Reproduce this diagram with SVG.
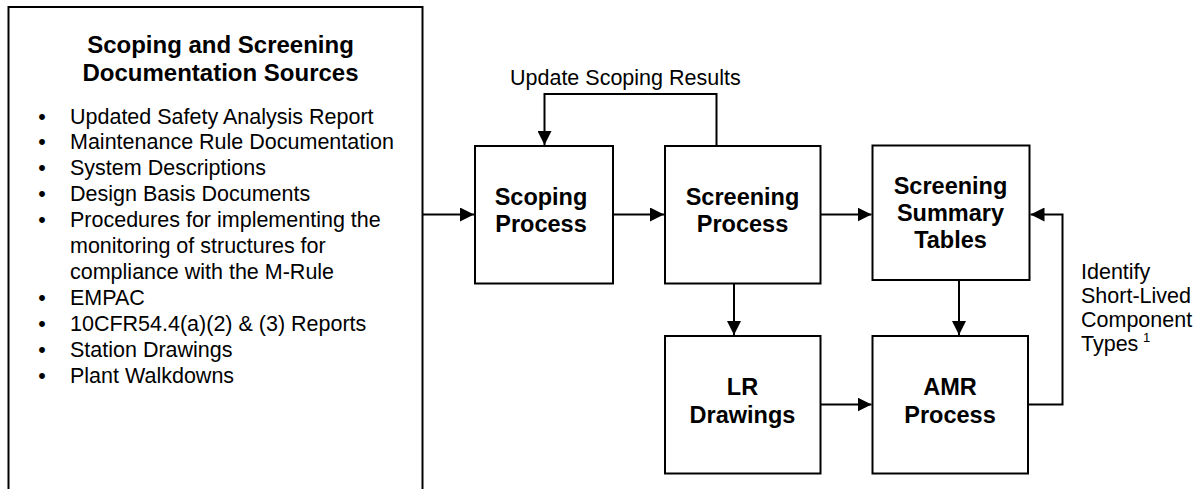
<svg xmlns="http://www.w3.org/2000/svg" width="1200" height="489" viewBox="0 0 1200 489">
  <style>
    .box { fill: #ffffff; stroke: #000000; stroke-width: 2; }
    .wire { fill: none; stroke: #000000; stroke-width: 2; }
    .head { font-family: "Liberation Sans", Arial, sans-serif; font-weight: bold; font-size: 23.5px; fill: #000000; text-anchor: middle; }
    .title { font-family: "Liberation Sans", Arial, sans-serif; font-weight: bold; font-size: 24px; fill: #000000; text-anchor: middle; }
    .txt { font-family: "Liberation Sans", Arial, sans-serif; font-size: 21.5px; fill: #000000; }
    .sup { font-family: "Liberation Sans", Arial, sans-serif; font-size: 13px; fill: #000000; }
  </style>
  <defs>
    <marker id="arrow" viewBox="0 0 14 14" refX="14" refY="7" markerWidth="14" markerHeight="14" markerUnits="userSpaceOnUse" orient="auto">
      <path d="M0,0 L14,7 L0,14 Z" fill="#000000"/>
    </marker>
  </defs>

  <rect width="1200" height="489" fill="#ffffff"/>

  <!-- Source documents panel (open at the bottom edge) -->
  <g id="sources">
    <rect class="box" x="8.5" y="7" width="414" height="500"/>
    <text class="title" x="220.5" y="53">Scoping and Screening</text>
    <text class="title" x="220.5" y="81">Documentation Sources</text>
    <g class="txt">
      <text x="42" y="123.5" text-anchor="middle">•</text>
      <text x="70" y="123.5">Updated Safety Analysis Report</text>
      <text x="42" y="149.4" text-anchor="middle">•</text>
      <text x="70" y="149.4">Maintenance Rule Documentation</text>
      <text x="42" y="175.3" text-anchor="middle">•</text>
      <text x="70" y="175.3">System Descriptions</text>
      <text x="42" y="201.2" text-anchor="middle">•</text>
      <text x="70" y="201.2">Design Basis Documents</text>
      <text x="42" y="227.1" text-anchor="middle">•</text>
      <text x="70" y="227.1">Procedures for implementing the</text>
      <text x="70" y="253">monitoring of structures for</text>
      <text x="70" y="278.9">compliance with the M-Rule</text>
      <text x="42" y="304.8" text-anchor="middle">•</text>
      <text x="70" y="304.8">EMPAC</text>
      <text x="42" y="330.7" text-anchor="middle">•</text>
      <text x="70" y="330.7">10CFR54.4(a)(2) &amp; (3) Reports</text>
      <text x="42" y="356.6" text-anchor="middle">•</text>
      <text x="70" y="356.6">Station Drawings</text>
      <text x="42" y="382.5" text-anchor="middle">•</text>
      <text x="70" y="382.5">Plant Walkdowns</text>
    </g>
  </g>

  <g id="scoping">
    <rect class="box" x="475" y="146" width="138" height="137.5"/>
    <text class="head" x="541" y="204.5">Scoping</text>
    <text class="head" x="541" y="231.5">Process</text>
  </g>

  <g id="screening">
    <rect class="box" x="665" y="146" width="155.5" height="137.5"/>
    <text class="head" x="742.5" y="204.5">Screening</text>
    <text class="head" x="742.5" y="231.5">Process</text>
  </g>

  <g id="summary">
    <rect class="box" x="872.5" y="145.5" width="157" height="134.5"/>
    <text class="head" x="950.5" y="194">Screening</text>
    <text class="head" x="950.5" y="221">Summary</text>
    <text class="head" x="950.5" y="248">Tables</text>
  </g>

  <g id="lr-drawings">
    <rect class="box" x="665" y="336" width="155.5" height="137.5"/>
    <text class="head" x="742.5" y="395">LR</text>
    <text class="head" x="742.5" y="422.5">Drawings</text>
  </g>

  <g id="amr">
    <rect class="box" x="872.5" y="336" width="155.5" height="137.5"/>
    <text class="head" x="950" y="395">AMR</text>
    <text class="head" x="950" y="422.5">Process</text>
  </g>

  <g id="connectors">
    <path class="wire" d="M422.5,214.5 H474" marker-end="url(#arrow)"/>
    <path class="wire" d="M613,214.5 H664" marker-end="url(#arrow)"/>
    <path class="wire" d="M820.5,214.5 H871.5" marker-end="url(#arrow)"/>
    <path class="wire" d="M716.5,146 V94 H544.5 V145" marker-end="url(#arrow)"/>
    <path class="wire" d="M734,283.5 V335" marker-end="url(#arrow)"/>
    <path class="wire" d="M959,280 V335" marker-end="url(#arrow)"/>
    <path class="wire" d="M820.5,404.5 H871.5" marker-end="url(#arrow)"/>
    <path class="wire" d="M1028,404.5 H1062.5 V214.5 H1030.5" marker-end="url(#arrow)"/>
  </g>

  <g id="labels">
    <text class="txt" x="510" y="85">Update Scoping Results</text>
    <text class="txt" x="1081" y="278.5">Identify</text>
    <text class="txt" x="1081" y="302.5">Short-Lived</text>
    <text class="txt" x="1081" y="326.5">Component</text>
    <text class="txt" x="1081" y="350.5">Types</text>
    <text class="sup" x="1143" y="342">1</text>
  </g>
</svg>
